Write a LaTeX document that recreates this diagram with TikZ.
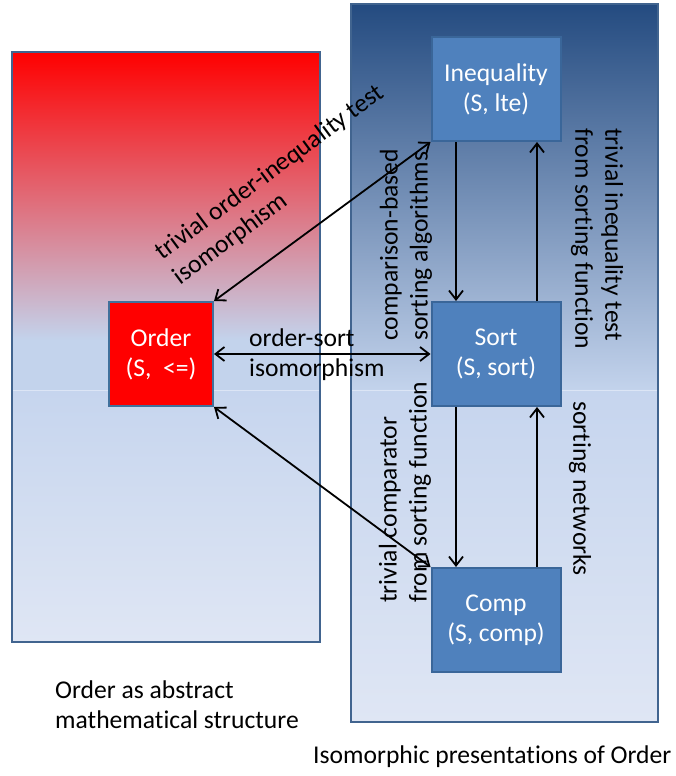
\documentclass[tikz,border=0pt]{standalone}
\usepackage{fontspec}
\setmainfont{Carlito}[Ligatures=CommonOff]
\usetikzlibrary{arrows.meta}

\definecolor{rot}{HTML}{FF0000}
\definecolor{hellblau}{HTML}{C3D3EC}
\definecolor{hellblauB}{HTML}{C6D5EE}
\definecolor{blassblau}{HTML}{DFE6F4}
\definecolor{dunkelblau}{HTML}{244B80}
\definecolor{randblau}{HTML}{41648F}
\definecolor{kastenblau}{HTML}{4F81BD}
\definecolor{kastenrand}{HTML}{3A6699}
\definecolor{ordnungrand}{HTML}{41719C}
\definecolor{naht}{HTML}{DCE5F5}

\begin{document}
\begin{tikzpicture}[x=1pt,y=-1pt,
   >={Straight Barb[length=9pt,width=14pt]},
   every node/.style={font=\fontsize{25.6}{30}\selectfont,inner sep=0pt},
   kasten/.style={draw=kastenrand,line width=2pt,fill=kastenblau,text=white,
      minimum width=129pt,minimum height=104pt,align=center},
   pfeil/.style={->,line width=1.8pt}]
   \useasboundingbox (0,0) rectangle (675,776);

   %% Rahmen links
   \shade[top color=rot,bottom color=hellblau] (12,52) rectangle (320,340);
   \fill[hellblau] (12,340) rectangle (320,390);
   \shade[top color=hellblauB,bottom color=blassblau] (12,390) rectangle (320,642);
   \draw[naht,line width=1pt] (12,390) -- (320,390);
   \draw[randblau,line width=2.5pt] (12,52) rectangle (320,642);

   %% Rahmen rechts
   \shade[top color=dunkelblau,bottom color=hellblau] (351,4) rectangle (658,390);
   \shade[top color=hellblauB,bottom color=blassblau] (351,390) rectangle (658,722);
   \draw[naht,line width=1pt] (351,390) -- (658,390);
   \draw[randblau,line width=2.5pt] (351,4) rectangle (658,722);

   %% Knoten
   \node[kasten] (ineq) at (496,89) {Inequality\\(S, lte)};
   \node[kasten] (sort) at (496,354) {Sort\\(S, sort)};
   \node[kasten] (comp) at (496,620) {Comp\\(S, comp)};
   \node[kasten,fill=rot,draw=ordnungrand,minimum width=104pt] (order) at (161,354) {Order\\(S,\ \ <=)};

   %% Pfeile
   \draw[pfeil,<->] (order.north east) -- (ineq.south west);
   \draw[pfeil,<->] (order) -- (sort);
   \draw[pfeil,<->] (order.south east) -- (comp.north west);
   \draw[pfeil] ([xshift=-40pt]ineq.south) -- ([xshift=-40pt]sort.north);
   \draw[pfeil] ([xshift=41pt]sort.north) -- ([xshift=41pt]ineq.south);
   \draw[pfeil] ([xshift=-40pt]sort.south) -- ([xshift=-40pt]comp.north);
   \draw[pfeil] ([xshift=41pt]comp.north) -- ([xshift=41pt]sort.south);

   %% Beschriftung
   \node[rotate=36.5,align=left] (ordineq) at (279,185) {trivial order-inequality test\\isomorphism};
   \node[anchor=west,align=left] (ordsort) at (249,355) {order-sort\\isomorphism};
   \node[rotate=90,anchor=west,align=left] (cmpsort) at (406,341) {comparison-based\\sorting algorithms};
   \node[rotate=-90,anchor=west,align=left] (trivineq) at (597,128) {trivial inequality test\\from sorting function};
   \node[rotate=90,anchor=west,align=left] (trivcomp) at (405,603) {trivial comparator\\from sorting function};
   \node[rotate=-90,anchor=west] (sortnet) at (580,401) {sorting networks};
   \node[anchor=west,align=left] (links) at (55,705) {Order as abstract\\mathematical structure};
   \node[anchor=west] (rechts) at (313,757) {Isomorphic presentations of Order};
\end{tikzpicture}
\end{document}
